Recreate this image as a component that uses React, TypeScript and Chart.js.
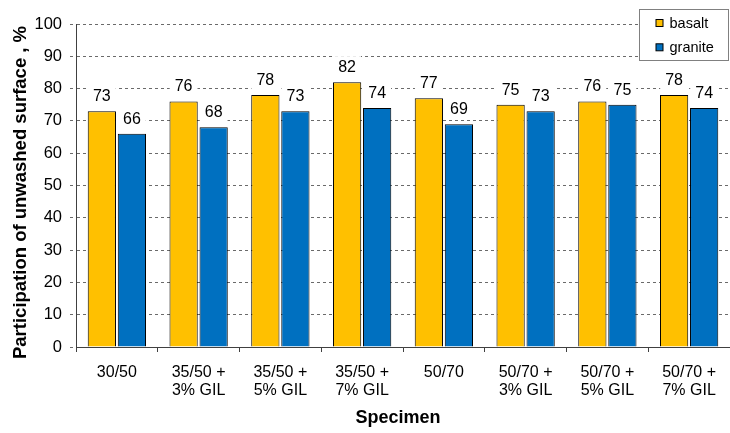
import React, { useEffect, useRef } from "react";
import { Chart, registerables } from "chart.js";

Chart.register(...registerables);

const categories: string[][] = [
  ["30/50"],
  ["35/50 +", "3% GIL"],
  ["35/50 +", "5% GIL"],
  ["35/50 +", "7% GIL"],
  ["50/70"],
  ["50/70 +", "3% GIL"],
  ["50/70 +", "5% GIL"],
  ["50/70 +", "7% GIL"],
];

const basalt = [73, 76, 78, 82, 77, 75, 76, 78];
const granite = [66, 68, 73, 74, 69, 73, 75, 74];

const seriesNames = ["basalt", "granite"];
const seriesColors = ["#FFC000", "#0070C0"];

const xTitle = "Specimen";
const yTitle = "Participation of unwashed surface , %";

const FONT = "'Liberation Sans', Arial, sans-serif";

// Value captions above each bar, on a white plate that hides the grid behind them
const valueLabels = {
  id: "valueLabels",
  afterDatasetsDraw(chart: any) {
    const ctx = chart.ctx;
    ctx.save();
    ctx.font = `16px ${FONT}`;
    ctx.textAlign = "center";
    ctx.textBaseline = "middle";
    chart.data.datasets.forEach((ds: any, di: number) => {
      const meta = chart.getDatasetMeta(di);
      meta.data.forEach((bar: any, i: number) => {
        const text = String(ds.data[i]);
        const w = ctx.measureText(text).width + 10;
        const cy = bar.y - 15.5;
        ctx.fillStyle = "#ffffff";
        ctx.fillRect(bar.x - w / 2, cy - 10.5, w, 21);
        ctx.fillStyle = "#000000";
        ctx.fillText(text, bar.x, cy + 1);
      });
    });
    ctx.restore();
  },
};

// Axis titles, placed against the plot area
const axisTitles = {
  id: "axisTitles",
  afterDraw(chart: any) {
    const ctx = chart.ctx;
    const area = chart.chartArea;
    ctx.save();
    ctx.fillStyle = "#000000";
    ctx.textBaseline = "alphabetic";
    ctx.textAlign = "center";
    ctx.font = `bold 18px ${FONT}`;
    ctx.fillText(xTitle, (area.left + area.right) / 2 - 5, area.bottom + 76);

    ctx.font = `bold 18.5px ${FONT}`;
    ctx.translate(26, (area.top + area.bottom) / 2 + 7);
    ctx.rotate(-Math.PI / 2);
    ctx.fillText(yTitle, 0, 0);
    ctx.restore();
  },
};

// Boxed legend in the upper right corner of the plot
const boxedLegend = {
  id: "boxedLegend",
  afterDraw(chart: any) {
    const ctx = chart.ctx;
    const area = chart.chartArea;
    const boxW = 89;
    const boxH = 51;
    const x0 = area.right - boxW - 1.5;
    const y0 = 9.5;
    ctx.save();
    ctx.fillStyle = "#ffffff";
    ctx.fillRect(x0, y0, boxW, boxH);
    ctx.strokeStyle = "#808080";
    ctx.lineWidth = 1;
    ctx.strokeRect(x0, y0, boxW, boxH);
    ctx.font = `14.5px ${FONT}`;
    ctx.textAlign = "left";
    ctx.textBaseline = "middle";
    seriesNames.forEach((name, i) => {
      const cy = y0 + 14 + i * 24.3;
      ctx.fillStyle = seriesColors[i];
      ctx.fillRect(x0 + 16.5, cy - 4, 7, 7);
      ctx.strokeStyle = "#000000";
      ctx.strokeRect(x0 + 16.5, cy - 4, 7, 7);
      ctx.fillStyle = "#000000";
      ctx.fillText(name, x0 + 30, cy);
    });
    ctx.restore();
  },
};

export default function App() {
  const canvasRef = useRef<HTMLCanvasElement | null>(null);

  useEffect(() => {
    if (!canvasRef.current) return;
    const chart = new Chart(canvasRef.current, {
      type: "bar",
      data: {
        labels: categories,
        datasets: [
          {
            label: seriesNames[0],
            data: basalt,
            backgroundColor: seriesColors[0],
            borderColor: "#000000",
            borderWidth: 1,
            categoryPercentage: 0.735,
            barPercentage: 0.94,
          },
          {
            label: seriesNames[1],
            data: granite,
            backgroundColor: seriesColors[1],
            borderColor: "#000000",
            borderWidth: 1,
            categoryPercentage: 0.735,
            barPercentage: 0.94,
          },
        ],
      },
      options: {
        animation: false,
        responsive: true,
        maintainAspectRatio: false,
        layout: { padding: { top: 24, right: 0, left: 0, bottom: 0 } },
        plugins: {
          legend: { display: false },
          tooltip: { enabled: false },
        },
        scales: {
          x: {
            afterFit: (scale: any) => {
              scale.height = 86;
            },
            grid: {
              display: true,
              drawOnChartArea: false,
              drawTicks: true,
              tickLength: 5,
              color: "#404040",
              offset: true,
            },
            border: { display: true, color: "#404040", width: 1 },
            ticks: {
              color: "#000000",
              padding: 12,
              maxRotation: 0,
              autoSkip: false,
              font: { family: FONT, size: 16, lineHeight: 1.1 },
            },
          },
          y: {
            min: 0,
            max: 100,
            afterFit: (scale: any) => {
              scale.width = 76;
            },
            grid: {
              color: "#6a6a6a",
              drawTicks: true,
              tickLength: 6,
              tickBorderDash: [3, 3],
            },
            border: { display: true, color: "#404040", width: 1, dash: [3, 3] },
            ticks: {
              stepSize: 10,
              color: "#000000",
              padding: 8,
              font: { family: FONT, size: 16.5 },
            },
          },
        },
      },
      plugins: [valueLabels, axisTitles, boxedLegend],
    } as any);
    return () => chart.destroy();
  }, []);

  return (
    <div style={{ position: "fixed", left: 0, top: 0, width: 730, height: 433, background: "#ffffff" }}>
      <canvas ref={canvasRef} />
    </div>
  );
}
